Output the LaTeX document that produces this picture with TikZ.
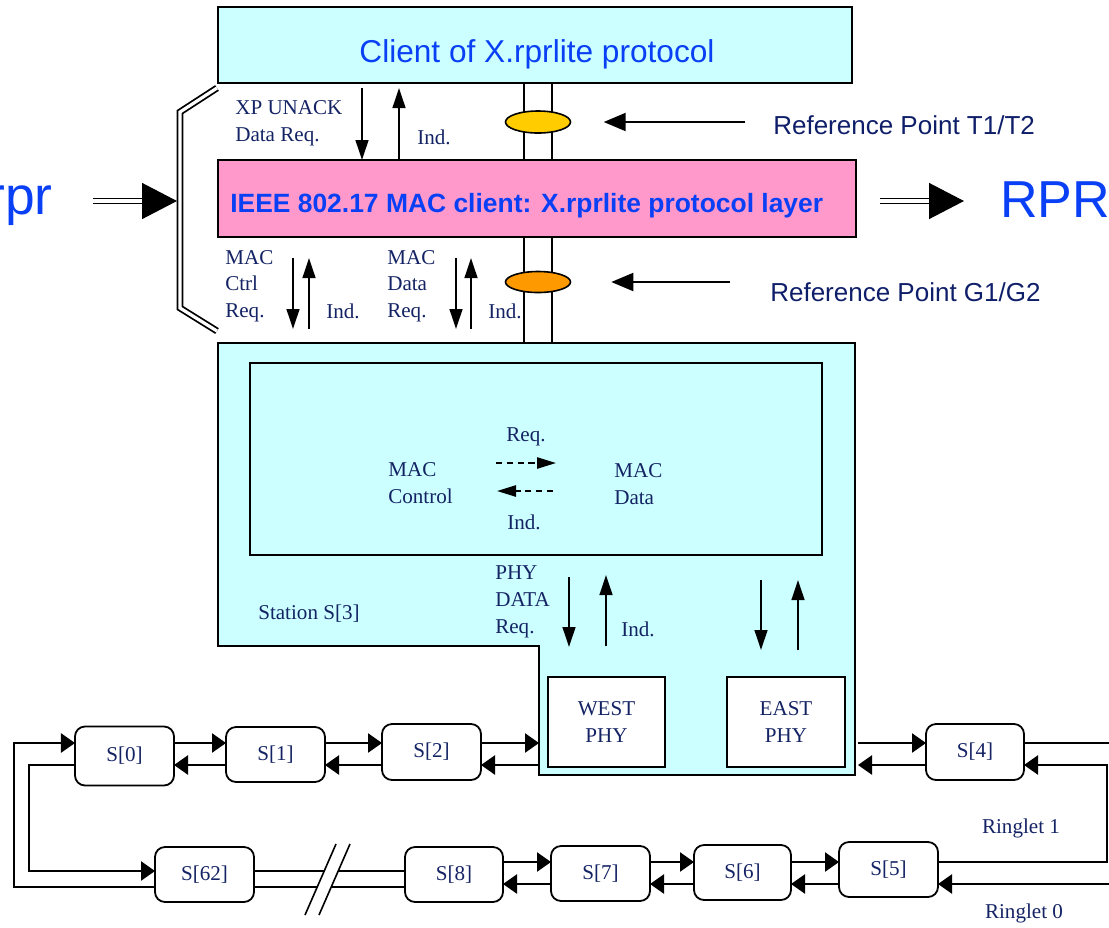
\documentclass[tikz,border=0pt]{standalone}
\usepackage{fontspec}
\setmainfont{Liberation Serif}
\newfontfamily\arialf{Liberation Sans}
\usetikzlibrary{arrows.meta,shapes.geometric,calc}
\definecolor{cyanbg}{RGB}{204,255,255}
\definecolor{pinkbg}{RGB}{255,153,204}
\definecolor{goldov}{RGB}{255,204,0}
\definecolor{orangeov}{RGB}{255,153,0}
\definecolor{vivid}{RGB}{10,64,245}
\definecolor{navy}{RGB}{20,35,100}
\definecolor{refnavy}{RGB}{15,30,105}
\newcommand\tmsize{\fontsize{15}{19}\selectfont}
\begin{document}
\begin{tikzpicture}[x=0.25mm,y=-0.25mm,
  box/.style={draw=black,line width=0.45mm,inner sep=0pt,outer sep=0pt},
  stn/.style={draw=black,line width=0.45mm,fill=white,rounded corners=2.5mm,
    minimum width=24.75mm,minimum height=13.75mm,inner sep=0pt,outer sep=0pt,
    font=\tmsize,text=navy},
  lbl/.style={font=\tmsize,text=navy,align=left,inner sep=0pt},
  oval/.style={ellipse,draw=black,line width=0.4mm,minimum width=16.25mm,
    minimum height=5.5mm,inner sep=0pt},
  pair/.style={line width=0.4mm},
  varr/.style={line width=0.5mm,-{Triangle[length=5mm,width=3.2mm]}},
  rarr/.style={line width=0.45mm,-{Triangle[length=3.5mm,width=4.8mm]}},
  rline/.style={line width=0.45mm},
  darr/.style={line width=0.5mm,dash pattern=on 1.6mm off 1.1mm,
    -{Triangle[length=4.75mm,width=2.8mm]}},
  refarr/.style={line width=0.5mm,-{Triangle[length=5.5mm,width=4.5mm]}},
  dshaft/.style={line width=0.45mm,double=white,double distance=0.8mm},
  bighead/.style={line width=0.35mm,-{Triangle[length=8.75mm,width=9mm]}},
  reftext/.style={font=\arialf\fontsize{18.5}{22}\selectfont,text=refnavy,
    inner sep=0pt,anchor=west,text depth=0pt}]
\useasboundingbox (0,0) rectangle (1109,927);

% client layer and the X.rprlite layer
\node[box,fill=cyanbg,minimum width=158.5mm,minimum height=19mm] (client) at (535,45) {};
\node[font=\arialf\fontsize{22.5}{27}\selectfont,text=vivid,inner sep=0pt,text depth=0pt]
  (clienttxt) at (537,51) {Client of X.rprlite protocol};
\node[box,fill=pinkbg,minimum width=159.5mm,minimum height=19.25mm] (pink) at (537,198.5) {};
\node[font=\arialf\bfseries\fontsize{18.8}{22}\selectfont,text=vivid,inner sep=0pt,
  text depth=0pt,anchor=west] (pinktxt) at (230,203)
  {IEEE 802.17 MAC client: X.rprlite protocol layer};

% station S[3]
\draw[fill=cyanbg,line width=0.45mm] (218,343) -- (855,343) -- (855,775) -- (539,775)
  -- (539,646) -- (218,646) -- cycle;
\coordinate (sttop) at (536,343);
\coordinate (stW) at (539,700);
\coordinate (stE) at (855,700);
\node[box,minimum width=143mm,minimum height=48mm] (macbox) at (536,459) {};
\node[box,fill=white,minimum width=29.25mm,minimum height=22.5mm,font=\tmsize,
  text=navy,align=center] (west) at (606.5,722) {WEST\\PHY};
\node[box,fill=white,minimum width=29.5mm,minimum height=22.5mm,font=\tmsize,
  text=navy,align=center] (east) at (786,722) {EAST\\PHY};

% reference point lines and ovals
\coordinate (vA) at (524,0);
\coordinate (vB) at (552,0);
\draw[pair] (client.south -| vA) -- (pink.north -| vA);
\draw[pair] (client.south -| vB) -- (pink.north -| vB);
\draw[pair] (pink.south -| vA) -- (sttop -| vA);
\draw[pair] (pink.south -| vB) -- (sttop -| vB);
\node[oval,fill=goldov] (ovT) at (538,122) {};
\node[oval,fill=orangeov,minimum height=5.25mm] (ovG) at (538,282) {};
\node[reftext] (refT) at (773,125) {Reference Point T1/T2};
\node[reftext] (refG) at (770,292) {Reference Point G1/G2};
\draw[refarr,shorten <=7mm,shorten >=8.1mm] (refT.west |- ovT.east) -- (ovT.east);
\draw[refarr,shorten <=10mm,shorten >=10mm] (refG.west |- ovG.east) -- (ovG.east);

% service primitives
\coordinate (xa1) at (362,0);
\coordinate (xa2) at (399,0);
\coordinate (xb1) at (293,0);
\coordinate (xb2) at (309,0);
\coordinate (xb3) at (456,0);
\coordinate (xb4) at (471,0);
\coordinate (xc1) at (569,0);
\coordinate (xc2) at (606,0);
\coordinate (xc3) at (761,0);
\coordinate (xc4) at (798,0);
\draw[varr,shorten <=1.25mm] (client.south -| xa1) -- (pink.north -| xa1);
\draw[varr,shorten >=1.25mm] (pink.north -| xa2) -- (client.south -| xa2);
\draw[varr,shorten <=5.25mm,shorten >=3.5mm] (pink.south -| xb1) -- (sttop -| xb1);
\draw[varr,shorten <=3.5mm,shorten >=5.25mm] (sttop -| xb2) -- (pink.south -| xb2);
\draw[varr,shorten <=5.25mm,shorten >=3.5mm] (pink.south -| xb3) -- (sttop -| xb3);
\draw[varr,shorten <=3.5mm,shorten >=5.25mm] (sttop -| xb4) -- (pink.south -| xb4);
\draw[varr,shorten <=5.5mm,shorten >=7.5mm] (macbox.south -| xc1) -- (west.north -| xc1);
\draw[varr,shorten <=7.75mm,shorten >=5mm] (west.north -| xc2) -- (macbox.south -| xc2);
\draw[varr,shorten <=6.25mm,shorten >=6.75mm] (macbox.south -| xc3) -- (east.north -| xc3);
\draw[varr,shorten <=6.75mm,shorten >=6.25mm] (east.north -| xc4) -- (macbox.south -| xc4);

\node[lbl,anchor=west] (xpl) at (235,123.5) {XP UNACK\\Data Req.};
\node[lbl,anchor=west] (ind1) at (417,137) {Ind.};
\node[lbl,anchor=west] (mcr) at (225,286) {MAC\\Ctrl\\Req.};
\node[lbl,anchor=west] (ind2) at (326,311) {Ind.};
\node[lbl,anchor=west] (mdr) at (387,286) {MAC\\Data\\Req.};
\node[lbl,anchor=west] (ind3) at (488,311) {Ind.};
\node[lbl,anchor=west] (mctl) at (388,483) {MAC\\Control};
\node[lbl,anchor=west] (mdat) at (614,484) {MAC\\Data};
\node[lbl] (req) at (526,437) {Req.};
\node[lbl] (ind4) at (524,522) {Ind.};
\node[lbl,anchor=west] (phyr) at (495,602) {PHY\\DATA\\Req.};
\node[lbl,anchor=west] (ind5) at (621,629) {Ind.};
\node[lbl,anchor=west] (stlbl) at (258,614) {Station S[3]};

% MAC control / MAC data exchange
\coordinate (dq1) at (496,463);
\coordinate (dq2) at (556,463);
\coordinate (di1) at (553,491);
\coordinate (di2) at (497,491);
\draw[darr] (dq1) -- (dq2);
\draw[darr] (di1) -- (di2);

% bracket and wide arrows
\draw[dshaft,line join=miter] (217,88) -- (180,112) -- (180,308) -- (217,331);
\node[font=\arialf\fontsize{38}{44}\selectfont,text=vivid,inner sep=0pt,anchor=base east]
  (rprL) at (53,214) {rpr};
\node[font=\arialf\fontsize{37}{44}\selectfont,text=vivid,inner sep=0pt,anchor=base west]
  (rprR) at (1000,217) {RPR};
\coordinate (bl1) at (93,201);
\coordinate (blh) at (143,201);
\coordinate (bl2) at (177,201);
\draw[dshaft] (bl1) -- (blh);
\draw[bighead] (blh) -- (bl2);
\coordinate (br1) at (880,201);
\coordinate (brh) at (931,201);
\coordinate (br2) at (964,201);
\draw[dshaft] (br1) -- (brh);
\draw[bighead] (brh) -- (br2);

% ring stations
\node[stn,minimum height=14.75mm] (s0) at (124.5,756) {S[0]};
\node[stn] (s1) at (275.5,754.5) {S[1]};
\node[stn,minimum height=14mm] (s2) at (431.5,752) {S[2]};
\node[stn,minimum width=24.5mm,minimum height=14mm] (s4) at (975,752) {S[4]};
\node[stn] (s5) at (888.5,869.5) {S[5]};
\node[stn,minimum width=24.25mm] (s6) at (742.5,872.5) {S[6]};
\node[stn] (s7) at (600.5,873.5) {S[7]};
\node[stn,minimum width=24.5mm] (s8) at (454,874.5) {S[8]};
\node[stn] (s62) at (204.5,874.5) {S[62]};
\node[lbl] (rg1) at (1021,828) {Ringlet 1};
\node[lbl] (rg0) at (1024,913) {Ringlet 0};

\coordinate (tA) at (0,743);
\coordinate (tB) at (0,765);
\coordinate (bA) at (0,862);
\coordinate (bB) at (0,884);
\coordinate (gA) at (0,871);
\coordinate (gB) at (0,887);
\coordinate (lo) at (14,800);
\coordinate (li) at (29,800);
\coordinate (er) at (1107,800);
\coordinate (eA) at (1109,743);
\coordinate (eC) at (1109,884);

\draw[rarr] (s0.east |- tA) -- (s1.west |- tA);
\draw[rarr] (s1.west |- tB) -- (s0.east |- tB);
\draw[rarr] (s1.east |- tA) -- (s2.west |- tA);
\draw[rarr] (s2.west |- tB) -- (s1.east |- tB);
\draw[rarr] (s2.east |- tA) -- (stW |- tA);
\draw[rarr] (stW |- tB) -- (s2.east |- tB);
\draw[rarr,shorten <=0.75mm] (stE |- tA) -- (s4.west |- tA);
\draw[rarr,shorten >=0.75mm] (s4.west |- tB) -- (stE |- tB);
\draw[rline] (s4.east |- tA) -- (eA);
\draw[rarr] (s5.east |- bA) -| (er) |- (s4.east |- tB);
\draw[rarr] (eC) -- (s5.east |- bB);
\draw[rarr] (s6.east |- bA) -- (s5.west |- bA);
\draw[rarr] (s5.west |- bB) -- (s6.east |- bB);
\draw[rarr] (s7.east |- bA) -- (s6.west |- bA);
\draw[rarr] (s6.west |- bB) -- (s7.east |- bB);
\draw[rarr] (s8.east |- bA) -- (s7.west |- bA);
\draw[rarr] (s7.west |- bB) -- (s8.east |- bB);
\draw[rline] (s62.east |- gA) -- (s8.west |- gA);
\draw[rline] (s62.east |- gB) -- (s8.west |- gB);
\draw[rarr] (s62.west |- gB) -| (lo) |- (s0.west |- tA);
\draw[rarr] (s0.west |- tB) -| (li) |- (s62.west |- gA);

% break in the ring between S[62] and S[8]
\fill[white] (336,844) -- (350,844) -- (319,915) -- (305,915) -- cycle;
\draw[line width=0.4mm] (336,844) -- (305,915);
\draw[line width=0.4mm] (350,844) -- (319,915);
\end{tikzpicture}
\end{document}
